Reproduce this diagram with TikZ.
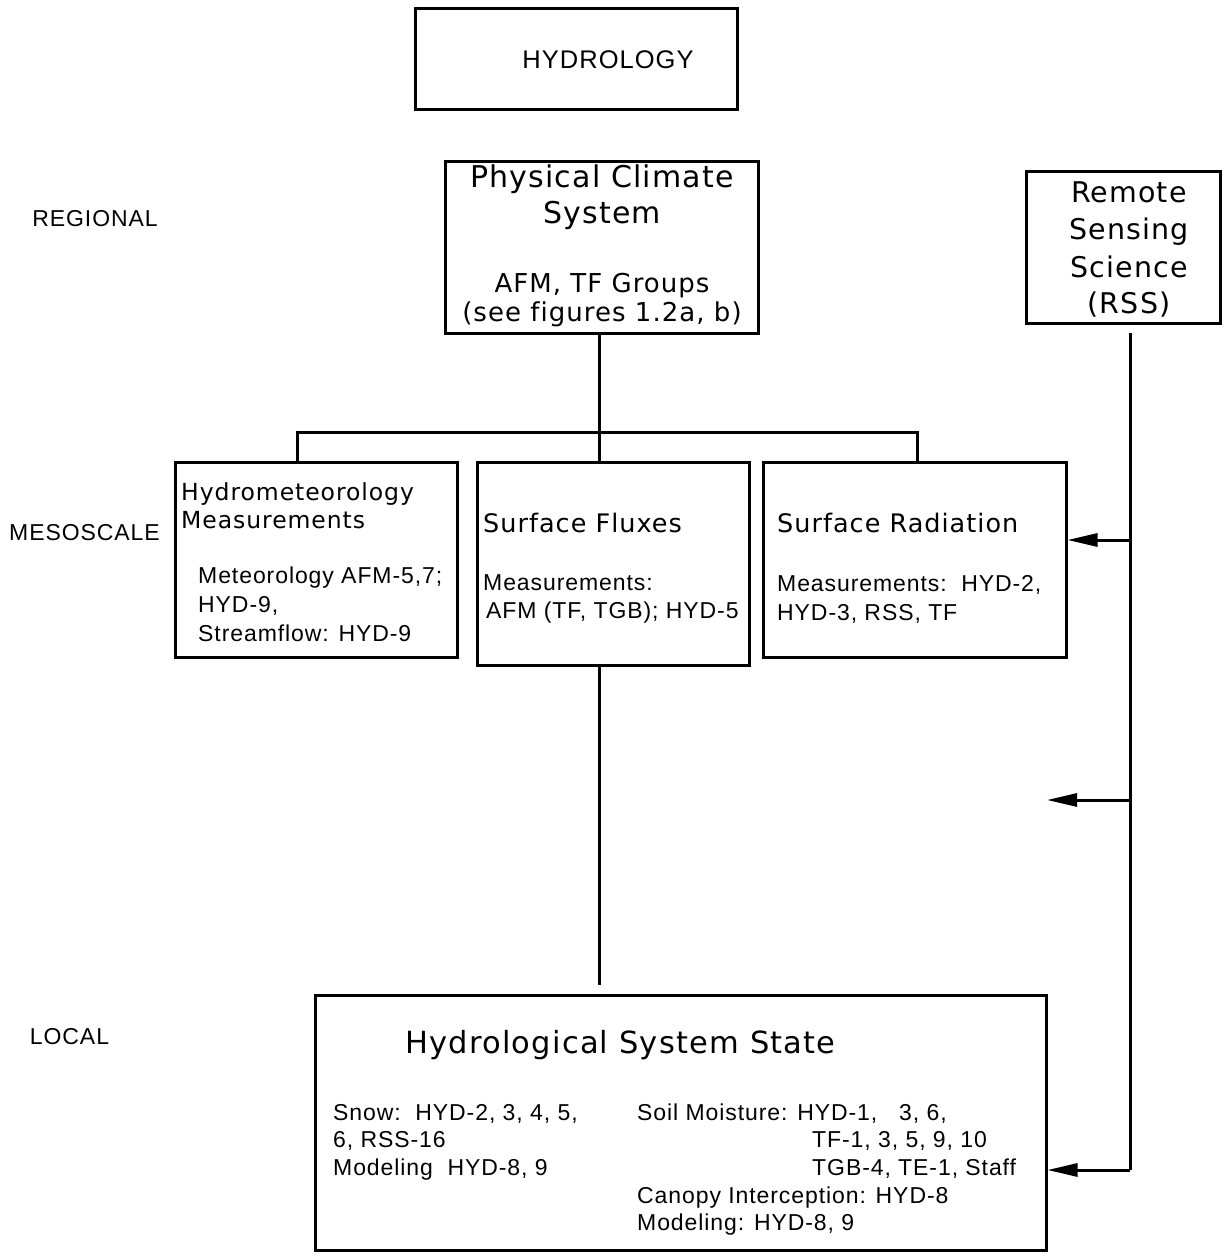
\documentclass[tikz,border=0pt]{standalone}
\usepackage{fontspec}
\setmainfont{Liberation Sans}
\newfontfamily\headfont[LetterSpace=4,Ligatures=NoCommon]{DejaVu Sans}
\newfontfamily\bodyfont[LetterSpace=4]{Liberation Sans}
\newfontfamily\capsfont[LetterSpace=4]{Liberation Sans}
\usetikzlibrary{arrows.meta}

\begin{document}
\begin{tikzpicture}[x=1pt,y=-1pt,
  box/.style={draw, line width=3pt, inner sep=0pt},
  link/.style={line width=3pt},
  feed/.style={line width=3pt, -{Triangle[length=30pt,width=13pt]}},
  lt/.style={inner sep=0pt, anchor=base west},
  ct/.style={inner sep=0pt, anchor=base},
  head/.style={font={\headfont\fontsize{#1}{#1}\selectfont}},
  body/.style={font={\bodyfont\fontsize{23}{23}\selectfont}},
  level/.style={font={\capsfont\fontsize{23}{23}\selectfont}}
]
\useasboundingbox (0,0) rectangle (1225,1257);

% boxes
\node[box, minimum width=322pt, minimum height=101pt] (hyd) at (576,59.5) {};
\node[box, minimum width=313pt, minimum height=171pt] (pcs) at (601.5,247.5) {};
\node[box, minimum width=194pt, minimum height=151pt] (rss) at (1123,247.5) {};
\node[box, minimum width=282pt, minimum height=195pt] (hm) at (316,559.5) {};
\node[box, minimum width=272pt, minimum height=203pt] (sf) at (613,563.5) {};
\node[box, minimum width=303pt, minimum height=195pt] (sr) at (914.5,559.5) {};
\node[box, minimum width=731pt, minimum height=255pt] (hss) at (680.5,1122.5) {};

% scale labels
\node[ct, level] (lreg) at (95,227) {REGIONAL};
\node[ct, level] (lmeso) at (84.5,540) {MESOSCALE};
\node[ct, level] (lloc) at (69.5,1044) {LOCAL};

% title
\node[ct, font={\capsfont\fontsize{25.5}{25.5}\selectfont}] (thyd) at (608,69) {HYDROLOGY};

% physical climate system
\node[ct, head=30] (tpcs1) at (602,188) {Physical Climate};
\node[ct, head=30] (tpcs2) at (602,224) {System};
\node[ct, head=26] (tpcs3) at (602,292) {AFM, TF Groups};
\node[ct, head=26] (tpcs4) at (602,321) {(see figures 1.2a, b)};

% remote sensing science
\node[ct, head=28.5] (trss1) at (1129,203) {Remote};
\node[ct, head=28.5] (trss2) at (1129,240) {Sensing};
\node[ct, head=28.5] (trss3) at (1129,277) {Science};
\node[ct, head=28.5] (trss4) at (1129,313) {(RSS)};

% hydrometeorology
\node[lt, head=23.5] (thm1) at (181,500.5) {Hydrometeorology};
\node[lt, head=23.5] (thm2) at (181,528.5) {Measurements};
\node[lt, body] (thm3) at (198,583) {Meteorology AFM-5,7;};
\node[lt, body] (thm4) at (198,612) {HYD-9,};
\node[lt, body] (thm5) at (198,641) {Streamflow: HYD-9};

% surface fluxes
\node[lt, head=25.5] (tsf1) at (483,532) {Surface Fluxes};
\node[lt, body] (tsf2) at (483,590) {Measurements:};
\node[lt, body] (tsf3) at (486,618) {AFM (TF, TGB); HYD-5};

% surface radiation
\node[lt, head=25.5] (tsr1) at (777,532) {Surface Radiation};
\node[lt, body] (tsr2) at (777,591) {Measurements:\ \ HYD-2,};
\node[lt, body] (tsr3) at (777,620) {HYD-3, RSS, TF};

% hydrological system state
\node[lt, head=30.5] (thss) at (405,1053) {Hydrological System State};
\node[lt, body] (tsn1) at (333,1120) {Snow:\ \ HYD-2, 3, 4, 5,};
\node[lt, body] (tsn2) at (333,1147) {6, RSS-16};
\node[lt, body] (tsn3) at (333,1175) {Modeling\ \ HYD-8, 9};
\node[lt, body] (tso1) at (637,1120) {Soil Moisture: HYD-1,\ \ \ 3, 6,};
\node[lt, body] (tso2) at (812,1147) {TF-1, 3, 5, 9, 10};
\node[lt, body] (tso3) at (812,1175) {TGB-4, TE-1, Staff};
\node[lt, body] (tso4) at (637,1203) {Canopy Interception: HYD-8};
\node[lt, body] (tso5) at (637,1230) {Modeling: HYD-8, 9};

% tree below the physical climate system
\coordinate (trunk) at (599,432);
\coordinate (jl) at (297,432);
\coordinate (jr) at (917,432);
\draw[link] (pcs.south -| trunk) -- (trunk) -- (trunk |- sf.north);
\draw[link] (jl |- hm.north) -- (jl) -- (jr) -- (jr |- sr.north);

% surface fluxes down towards the local level
\coordinate (fluxend) at (599,985);
\draw[link] (sf.south -| fluxend) -- (fluxend);

% remote sensing feed
\coordinate (rtop) at (1130,333);
\coordinate (rbot) at (1130,1170);
\coordinate (tapa) at (1130,540);
\coordinate (tapb) at (1130,800);
\coordinate (freeb) at (1047,800);
\draw[link] (rtop) -- (rbot);
\draw[feed] (rbot) -- (rbot -| hss.east);
\draw[feed] (tapa) -- (tapa -| sr.east);
\draw[feed] (tapb) -- (freeb);
\end{tikzpicture}
\end{document}
